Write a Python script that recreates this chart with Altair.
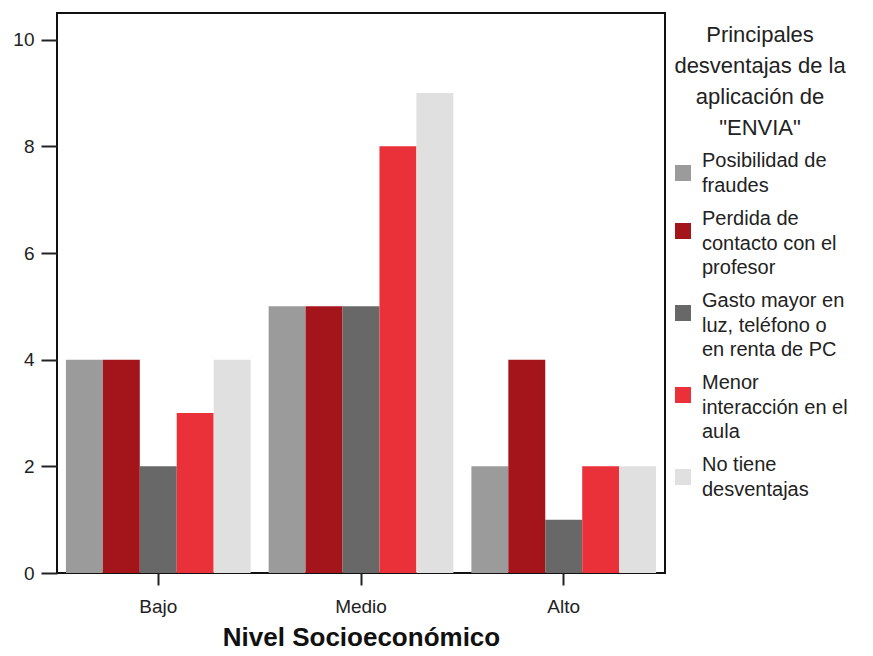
import json
import altair as alt
import pandas as pd

niveles = ["Bajo", "Medio", "Alto"]
series = [
    "Posibilidad de fraudes",
    "Perdida de contacto con el profesor",
    "Gasto mayor en luz, teléfono o en renta de PC",
    "Menor interacción en el aula",
    "No tiene desventajas",
]
series_lines = [
    ["Posibilidad de", "fraudes"],
    ["Perdida de", "contacto con el", "profesor"],
    ["Gasto mayor en", "luz, teléfono o", "en renta de PC"],
    ["Menor", "interacción en el", "aula"],
    ["No tiene", "desventajas"],
]
colores = ["#9b9b9b", "#a3151b", "#686868", "#ea3139", "#e0e0e0"]

valores_bajo = [4, 4, 2, 3, 4]
valores_medio = [5, 5, 5, 8, 9]
valores_alto = [2, 4, 1, 2, 2]

rows = []
for nivel, vals in zip(niveles, [valores_bajo, valores_medio, valores_alto]):
    for s, v in zip(series, vals):
        rows.append({"nivel": nivel, "serie": s, "valor": v})
df = pd.DataFrame(rows)

label_expr = " : ".join(
    f"datum.label == {json.dumps(s)} ? {json.dumps(l)}" for s, l in zip(series, series_lines)
) + " : datum.label"

FONT = "Liberation Sans"

chart = alt.Chart(df).mark_bar().encode(
    x=alt.X(
        "nivel:N",
        sort=niveles,
        scale=alt.Scale(paddingInner=0.089, paddingOuter=0.044),
        axis=alt.Axis(
            title="Nivel Socioeconómico",
            labelAngle=0,
            labelFontSize=19,
            labelColor="#222222",
            labelPadding=12,
            tickSize=12,
            tickColor="#222222",
            tickWidth=2,
            domain=False,
            titleFontSize=26,
            titleFontWeight="bold",
            titleColor="#111111",
            titlePadding=8,
            grid=False,
        ),
    ),
    xOffset=alt.XOffset("serie:N", sort=series, scale=alt.Scale(paddingInner=0, paddingOuter=0)),
    y=alt.Y(
        "valor:Q",
        scale=alt.Scale(domain=[0, 10.5], nice=False),
        axis=alt.Axis(
            title=None,
            values=[0, 2, 4, 6, 8, 10],
            labelFontSize=19,
            labelColor="#222222",
            labelPadding=7,
            tickSize=16,
            tickColor="#222222",
            tickWidth=2,
            domain=False,
            grid=False,
        ),
    ),
    color=alt.Color(
        "serie:N",
        sort=series,
        scale=alt.Scale(domain=series, range=colores),
        legend=alt.Legend(
            title=["Principales", "desventajas de la", "aplicación de", '"ENVIA"'],
            titleFontSize=22,
            titleFontWeight="normal",
            titleColor="#222222",
            titleLineHeight=31,
            titleAlign="center",
            titleAnchor="middle",
            titlePadding=23,
            labelExpr=label_expr,
            labelFontSize=20,
            labelColor="#222222",
            labelLimit=300,
            labelBaseline="line-bottom",
            symbolType="square",
            symbolSize=256,
            symbolStrokeWidth=0,
            symbolOpacity=1,
            rowPadding=13,
            labelOffset=9,
            orient="none",
            legendX=616,
            legendY=12,
        ),
    ),
).properties(
    width=608,
    height=560,
    autosize=alt.AutoSizeParams(type="none"),
    padding={"left": 49, "top": 5, "right": 200, "bottom": 80},
).configure(
    font=FONT,
    style={"guide-label": {"lineHeight": 24.5}},
    view=alt.ViewConfig(stroke="#111111", strokeWidth=2),
)

chart.save("out.html", embed_options={"renderer": "svg", "actions": False})
